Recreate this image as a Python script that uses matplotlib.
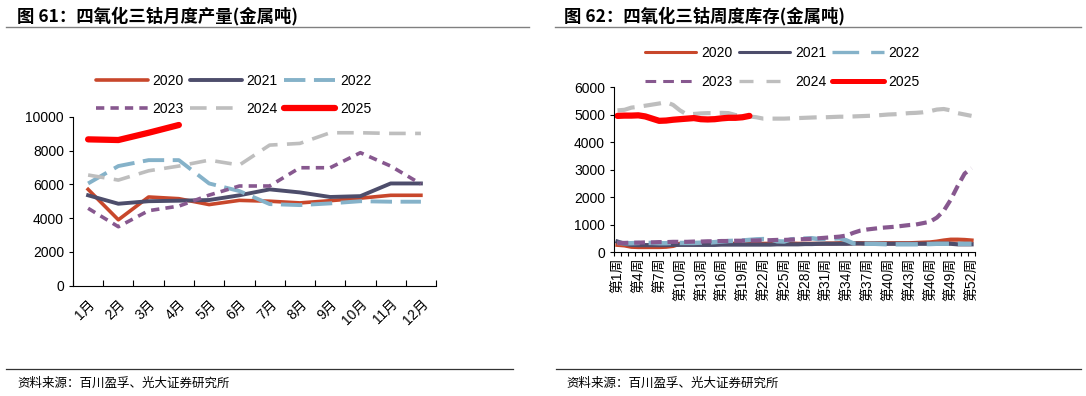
import matplotlib
matplotlib.use('Agg')
import matplotlib.pyplot as plt
from matplotlib.lines import Line2D

plt.rcParams['font.family'] = ['Liberation Sans', 'Noto Sans CJK SC']
plt.rcParams['axes.unicode_minus'] = False

# ---- data: monthly output (left) ----
months = ['1月', '2月', '3月', '4月', '5月', '6月', '7月', '8月', '9月', '10月', '11月', '12月']
m2020 = [5700, 3900, 5250, 5150, 4800, 5050, 5000, 4900, 5030, 5180, 5350, 5350]
m2021 = [5350, 4850, 5000, 5030, 5070, 5350, 5700, 5520, 5250, 5300, 6050, 6050]
m2022 = [6050, 7080, 7430, 7430, 6050, 5600, 4830, 4770, 4870, 5000, 4970, 4970]
m2023 = [4580, 3490, 4440, 4710, 5360, 5900, 5900, 6980, 6980, 7870, 7080, 6020]
m2024 = [6550, 6250, 6800, 7080, 7430, 7140, 8320, 8420, 9050, 9050, 9010, 9010]
m2025 = [8660, 8620, 9050, 9510]

# ---- data: weekly inventory (right) ----
weeks = ['第%d周' % i for i in range(1, 53)]
w2020 = [260, 240, 190, 180, 180, 180, 180, 190, 220, 300, 300, 300, 300, 300, 310, 300,
         300, 300, 300, 300, 300, 300, 300, 300, 310, 310, 300, 300, 300, 300, 310, 310,
         320, 320, 320, 320, 320, 320, 320, 320, 320, 320, 320, 330, 340, 350, 380, 420,
         450, 450, 440, 420]
w2021 = [380, 300, 260, 250, 250, 250, 250, 250, 260, 260, 260, 260, 260, 260, 260, 270,
         270, 270, 270, 270, 270, 270, 270, 280, 280, 280, 280, 290, 290, 300, 300, 300,
         300, 300, 310, 310, 300, 300, 300, 300, 300, 300, 300, 300, 300, 300, 300, 300,
         300, 280, 280, 280]
w2022 = [330, 320, 320, 330, 330, 330, 320, 320, 330, 330, 330, 330, 340, 340, 360, 380,
         400, 410, 420, 440, 460, 470, 460, 390, 380, 460, 480, 490, 500, 470, 470, 490,
         500, 420, 310, 300, 300, 300, 290, 280, 280, 280, 280, 280, 290, 290, 300, 300,
         300, 300, 300, 300]
w2023 = [330, 330, 340, 340, 350, 350, 360, 360, 370, 370, 370, 380, 380, 390, 390, 400,
         400, 410, 410, 420, 420, 430, 430, 440, 440, 450, 460, 470, 480, 500, 520, 540,
         560, 600, 700, 780, 820, 850, 880, 900, 920, 950, 980, 1000, 1050, 1100, 1250, 1500,
         1900, 2400, 2850, 3050]
w2024 = [5150, 5170, 5250, 5280, 5320, 5360, 5400, 5450, 5350, 5150, 5000, 5020, 5040, 5050, 5050, 5060,
         5050, 4980, 4950, 4930, 4900, 4850, 4850, 4850, 4850, 4860, 4870, 4880, 4890, 4900, 4900, 4910,
         4920, 4920, 4930, 4940, 4950, 4960, 4980, 5000, 5010, 5030, 5050, 5060, 5080, 5120, 5180, 5200,
         5150, 5050, 5000, 4950]
w2025 = [4950, 4960, 4960, 4970, 4930, 4850, 4770, 4780, 4810, 4830, 4850, 4870, 4830, 4820, 4830, 4860,
         4880, 4880, 4900, 4950]

years = ['2020', '2021', '2022', '2023', '2024', '2025']
colors = ['#C8472B', '#4D4D6B', '#85B2C9', '#87588F', '#BEBEBE', '#FF0000']

# dash patterns (in units of line width)
dash_left = {2: (5.5, 2.2), 3: (2.3, 1.7), 4: (4.6, 2.6)}
dash_right = {2: (5.0, 2.0), 3: (2.6, 1.4), 4: (4.2, 2.2)}
dash_leg = {2: (8.0, 3.6), 3: (3.5, 2.3), 4: (4.2, 3.9)}

fig = plt.figure(figsize=(10.86, 3.96), dpi=100)


def style_line(ax, x, y, i, lw, dashes):
    kw = dict(color=colors[i], lw=lw, label=years[i])
    if i in dashes:
        kw['dashes'] = dashes[i]
    line, = ax.plot(x, y, **kw)
    if i == 5:
        line.set_solid_capstyle('round')
    return line


def frame(ax):
    ax.spines['top'].set_visible(False)
    ax.spines['right'].set_visible(False)
    ax.spines['left'].set_linewidth(0.8)
    ax.spines['bottom'].set_linewidth(0.8)
    ax.tick_params(axis='y', labelsize=10, length=3, width=0.8)


# ---- left chart ----
ax1 = fig.add_axes([0.0672, 0.2785, 0.3343, 0.4268])
frame(ax1)
series_m = [m2020, m2021, m2022, m2023, m2024, m2025]
lws_m = [2.6, 2.8, 2.8, 2.6, 2.6, 4.5]
h1 = []
for i, s in enumerate(series_m):
    h1.append(style_line(ax1, range(len(s)), s, i, lws_m[i], dash_left))
ax1.set_xlim(-0.5, len(months) - 0.5)
ax1.set_ylim(0, 10000)
ax1.set_yticks(range(0, 10001, 2000))
ax1.set_xticks(range(len(months)))
ax1.set_xticklabels(months, rotation=45, ha='right', rotation_mode='anchor', fontsize=10)
ax1.set_xticks([i + 0.5 for i in range(-1, len(months))], minor=True)
ax1.tick_params(axis='x', which='major', length=0, pad=8)
ax1.tick_params(axis='x', which='minor', length=4, width=0.8, direction='in')

order = [0, 3, 1, 4, 2, 5]
leg1_handles = [Line2D([0], [0], color=colors[k], lw=lws_m[k],
                       dashes=dash_left.get(k, (None, None)), solid_capstyle='round')
                for k in order]
fig.legend(leg1_handles, [years[k] for k in order], ncol=3, loc='center',
           bbox_to_anchor=(0.2155, 0.761), frameon=False, fontsize=10,
           handlelength=3.7, handletextpad=0.35, columnspacing=0.45, labelspacing=1.0)

# ---- right chart ----
ax2 = fig.add_axes([0.5654, 0.3636, 0.3324, 0.4167])
frame(ax2)
series_w = [w2020, w2021, w2022, w2023, w2024, w2025]
lws_w = [3.0, 3.0, 3.2, 3.0, 3.0, 4.5]
h2 = []
for i, s in enumerate(series_w):
    h2.append(style_line(ax2, range(len(s)), s, i, lws_w[i], dash_right))
ax2.set_xlim(-0.5, len(weeks) - 0.5)
ax2.set_ylim(0, 6000)
ax2.set_yticks(range(0, 6001, 1000))
ax2.set_xticks(range(0, len(weeks), 3))
ax2.set_xticklabels(weeks[::3], rotation=90, fontsize=10)
ax2.set_xticks([i + 0.5 for i in range(-1, len(weeks))], minor=True)
ax2.tick_params(axis='x', which='major', length=0, pad=4)
ax2.tick_params(axis='x', which='minor', length=3, width=0.8, direction='out')

lws_leg = [2.2, 2.2, 2.4, 2.2, 2.4, 3.6]
leg2_handles = [Line2D([0], [0], color=colors[k], lw=lws_leg[k],
                       dashes=dash_leg.get(k, (None, None)), solid_capstyle='round')
                for k in order]
fig.legend(leg2_handles, [years[k] for k in order], ncol=3, loc='center',
           bbox_to_anchor=(0.7205, 0.8295), frameon=False, fontsize=10,
           handlelength=3.7, handletextpad=0.35, columnspacing=0.45, labelspacing=1.1)

# ---- titles, rules, sources ----
title_font = ['Noto Sans CJK SC']
fig.text(0.0156, 0.96, '图 61：四氧化三钴月度产量(金属吨)', fontsize=12.5, fontweight='bold',
         family=title_font, va='center')
fig.text(0.5195, 0.96, '图 62：四氧化三钴周度库存(金属吨)', fontsize=12.5, fontweight='bold',
         family=title_font, va='center')
fig.add_artist(Line2D([0.0055, 0.487], [0.932, 0.932], color='#808080', lw=1.0))
fig.add_artist(Line2D([0.511, 0.995], [0.932, 0.932], color='#808080', lw=1.0))
fig.add_artist(Line2D([0.0055, 0.4725], [0.0682, 0.0682], color='#333333', lw=0.9))
fig.add_artist(Line2D([0.512, 0.995], [0.0682, 0.0682], color='#333333', lw=0.9))
fig.text(0.0156, 0.031, '资料来源：百川盈孚、光大证券研究所', fontsize=9, family=title_font, va='center')
fig.text(0.5212, 0.031, '资料来源：百川盈孚、光大证券研究所', fontsize=9, family=title_font, va='center')

fig.savefig('out.png', dpi=100)
